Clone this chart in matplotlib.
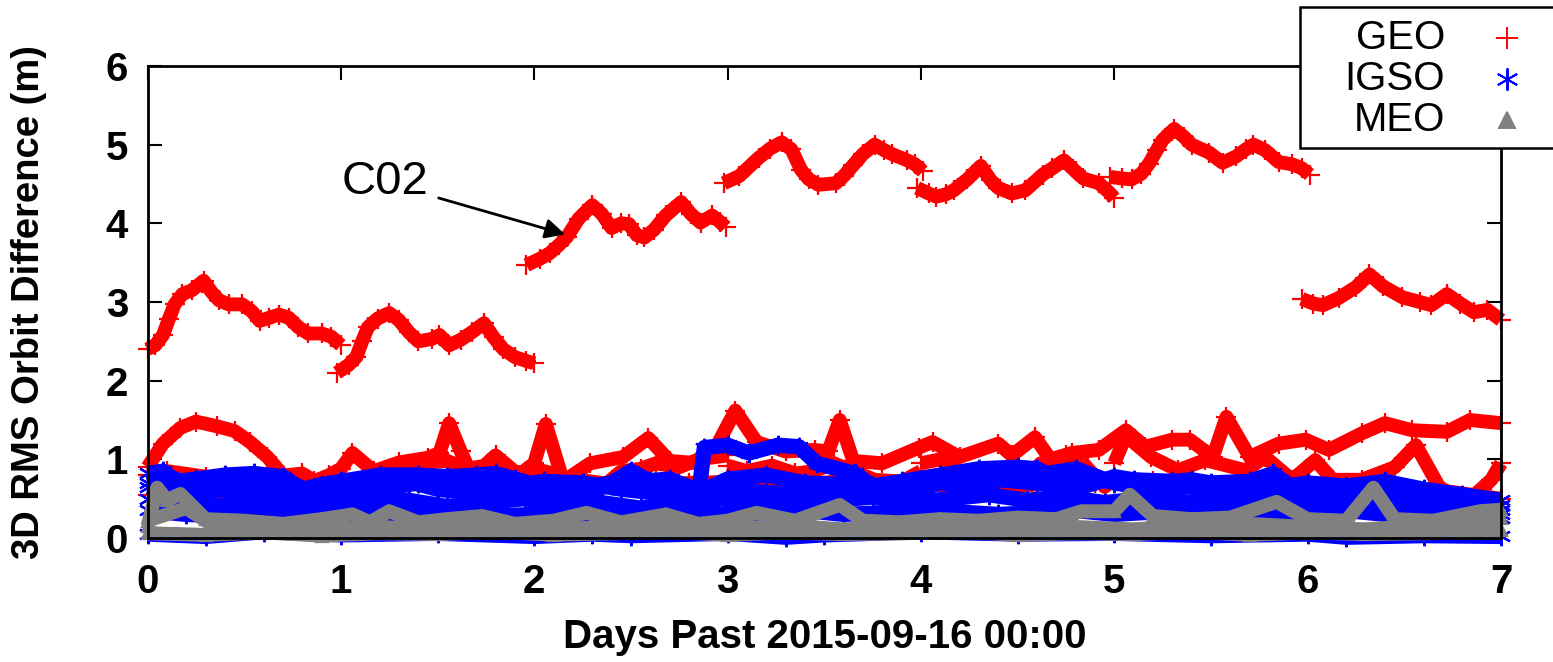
import numpy as np
import matplotlib
matplotlib.use('Agg')
import matplotlib.pyplot as plt
from matplotlib.patches import Rectangle
from matplotlib.lines import Line2D

plt.rcParams['font.family'] = ['Liberation Sans', 'DejaVu Sans']

nan = np.nan

# C02 (GEO), one arc per daily solution, nan breaks the line between days
c02_days = [0.00, 0.04, 0.08, 0.11, 0.14, 0.18, 0.23, 0.29, 0.33, 0.37, 0.42, 0.49, 0.54, 0.58, 0.63, 0.68, 0.73, 0.78, 0.83, 0.90, 0.95, 1.00, nan,
            0.98, 1.04, 1.08, 1.11, 1.14, 1.19, 1.25, 1.30, 1.35, 1.40, 1.47, 1.51, 1.56, 1.62, 1.68, 1.74, 1.79, 1.84, 1.90, 1.96, 2.00, nan,
            1.96, 2.03, 2.08, 2.13, 2.17, 2.23, 2.30, 2.35, 2.40, 2.45, 2.49, 2.53, 2.57, 2.62, 2.68, 2.76, 2.81, 2.86, 2.92, 2.96, 2.99, nan,
            2.98, 3.06, 3.16, 3.22, 3.28, 3.33, 3.38, 3.42, 3.47, 3.56, 3.60, 3.65, 3.70, 3.76, 3.81, 3.85, 3.93, 3.97, 4.01, nan,
            3.98, 4.04, 4.08, 4.13, 4.17, 4.24, 4.31, 4.36, 4.40, 4.47, 4.54, 4.63, 4.68, 4.74, 4.80, 4.84, 4.92, 4.97, 5.00, nan,
            4.98, 5.04, 5.09, 5.14, 5.18, 5.22, 5.25, 5.31, 5.36, 5.40, 5.49, 5.56, 5.63, 5.68, 5.72, 5.78, 5.85, 5.92, 5.97, 6.01, nan,
            5.97, 6.03, 6.08, 6.16, 6.25, 6.32, 6.39, 6.49, 6.58, 6.64, 6.72, 6.79, 6.86, 6.93, 7.00]
c02_vals = [2.40, 2.45, 2.58, 2.78, 2.97, 3.10, 3.15, 3.27, 3.13, 3.02, 2.97, 2.97, 2.88, 2.76, 2.80, 2.84, 2.80, 2.68, 2.60, 2.60, 2.56, 2.45, nan,
            2.10, 2.20, 2.30, 2.50, 2.68, 2.79, 2.86, 2.77, 2.62, 2.50, 2.53, 2.58, 2.45, 2.52, 2.62, 2.73, 2.55, 2.40, 2.30, 2.25, 2.22, nan,
            3.47, 3.55, 3.62, 3.73, 3.83, 4.06, 4.23, 4.12, 3.94, 4.00, 3.99, 3.85, 3.82, 3.92, 4.10, 4.27, 4.12, 4.01, 4.10, 4.02, 3.95, nan,
            4.51, 4.60, 4.83, 4.95, 5.03, 4.94, 4.68, 4.56, 4.49, 4.51, 4.60, 4.74, 4.88, 5.00, 4.93, 4.88, 4.80, 4.75, 4.66, nan,
            4.45, 4.38, 4.34, 4.37, 4.42, 4.56, 4.73, 4.55, 4.45, 4.38, 4.42, 4.62, 4.70, 4.80, 4.66, 4.57, 4.51, 4.40, 4.32, nan,
            4.59, 4.57, 4.56, 4.63, 4.76, 4.93, 5.06, 5.20, 5.10, 5.00, 4.90, 4.77, 4.85, 4.94, 5.00, 4.93, 4.78, 4.75, 4.70, 4.62, nan,
            3.04, 2.98, 2.96, 3.05, 3.19, 3.35, 3.20, 3.06, 3.00, 2.96, 3.10, 2.98, 2.87, 2.90, 2.77]

# other GEO satellites
geo_a_days = [0.00, 0.08, 0.17, 0.25, 0.36, 0.45, 0.53, 0.62, 0.70, 0.78, 0.86, 0.94, 1.00, 1.06, 1.17, 1.30, 1.45, 1.51, 1.56, 1.62, 1.68,
              1.80, 1.92, 2.00, 2.06, 2.15, 2.29, 2.46, 2.59, 2.70, 2.85, 2.95, 3.04, 3.15, 3.30, 3.45, 3.52, 3.58, 3.65, 3.80, 3.99, 4.06,
              4.20, 4.40, 4.47, 4.59, 4.67, 4.78, 4.92, 5.06, 5.16, 5.30, 5.39, 5.51, 5.58, 5.70, 5.85, 5.99, 6.11, 6.28, 6.40, 6.54,
              6.72, 6.84, 7.00]
geo_a_vals = [0.90, 1.20, 1.40, 1.48, 1.42, 1.36, 1.22, 1.03, 0.80, 0.65, 0.72, 0.80, 0.88, 1.08, 0.85, 0.96, 1.02, 1.08, 1.46, 1.10, 0.78,
              1.05, 0.80, 0.95, 1.45, 0.72, 0.95, 1.03, 1.27, 0.98, 0.95, 1.20, 1.62, 1.22, 1.10, 1.12, 1.10, 1.50, 0.98, 0.95, 1.15, 1.22,
              1.03, 1.20, 1.05, 1.28, 1.00, 1.08, 1.12, 1.37, 1.16, 1.25, 1.25, 1.03, 1.54, 1.03, 1.20, 1.25, 1.12, 1.33, 1.46, 1.37,
              1.35, 1.50, 1.46]

geo_b_days = [0.00, 0.10, 0.30, 0.50, 0.65, 0.80, 0.93, 1.00, nan,
              1.00, 1.10, 1.25, 1.40, 1.55, 1.65, 1.75, 1.85, 2.00, nan,
              2.00, 2.10, 2.20, 2.34, 2.45, 2.55, 2.63, 2.75, 2.85, 3.00, nan,
              3.00, 3.10, 3.23, 3.35, 3.45, 3.55, 3.70, 3.85, 4.00, nan,
              4.00, 4.10, 4.25, 4.40, 4.50, 4.62, 4.75, 4.82, 4.95, 5.00, nan,
              5.00, 5.06, 5.19, 5.33, 5.47, 5.68, 5.78, 5.92, 6.04, 6.13, 6.28, 6.45, 6.56, 6.68, 6.82, 6.95, 7.00]
geo_b_vals = [0.80, 0.85, 0.78, 0.70, 0.78, 0.82, 0.62, 0.70, nan,
              0.75, 0.72, 0.88, 0.95, 0.98, 0.88, 0.92, 0.85, 0.80, nan,
              0.88, 0.82, 0.68, 0.62, 0.85, 0.88, 0.95, 0.90, 1.00, 1.05, nan,
              0.92, 0.85, 0.92, 0.82, 0.85, 0.95, 0.80, 0.65, 0.85, nan,
              0.95, 1.00, 0.75, 0.65, 0.70, 0.95, 1.05, 1.00, 0.65, 0.75, nan,
              0.95, 1.30, 1.03, 0.86, 0.99, 0.86, 1.03, 0.74, 0.99, 0.74, 0.74, 0.90, 1.18, 0.65, 0.45, 0.74, 0.95]

geo_c_days = [0.0, 0.2, 0.4, 0.6, 0.8, 1.0, 1.3, 1.6, 1.9, 2.2, 2.5, 2.8, 3.1, 3.4, 3.7, 4.0, 4.3, 4.6, 4.9, 5.2, 5.5, 5.8, 6.1, 6.4, 6.7, 7.0]
geo_c_vals = [0.55, 0.60, 0.55, 0.65, 0.72, 0.60, 0.70, 0.65, 0.72, 0.75, 0.65, 0.70, 0.72, 0.68, 0.75, 0.70, 0.62, 0.68, 0.70, 0.72, 0.60, 0.70, 0.62, 0.55, 0.60, 0.50]

# IGSO satellites
igso_1_days = [0.00, 0.08, 0.15, 0.25, 0.40, 0.55, 0.70, 0.80, 0.90, 1.00, 1.20, 1.40, 1.55, 1.70, 1.80, 1.90, 2.00, 2.20, 2.40, 2.50,
               2.60, 2.75, 2.85, 2.88, 3.00, 3.11, 3.26, 3.37, 3.46, 3.66, 3.75, 3.90, 4.10, 4.30, 4.50, 4.60, 4.70, 4.90, 5.10, 5.30,
               5.50, 5.70, 5.82, 5.90, 6.10, 6.30, 6.50, 6.70, 6.90, 7.00]
igso_1_vals = [0.82, 0.85, 0.72, 0.75, 0.80, 0.82, 0.78, 0.62, 0.68, 0.72, 0.80, 0.80, 0.78, 0.80, 0.82, 0.75, 0.68, 0.62, 0.70, 0.85,
               0.72, 0.60, 0.55, 1.15, 1.18, 1.08, 1.18, 1.16, 0.95, 0.82, 0.66, 0.72, 0.80, 0.88, 0.90, 0.88, 0.75, 0.72, 0.74, 0.72,
               0.70, 0.72, 0.82, 0.68, 0.62, 0.65, 0.62, 0.55, 0.45, 0.42]
igso_2_days = [0.00, 0.20, 0.40, 0.60, 0.80, 1.00, 1.20, 1.40, 1.60, 1.80, 2.00, 2.20, 2.40, 2.55, 2.70, 2.85, 3.00, 3.20, 3.40, 3.60,
               3.80, 4.00, 4.20, 4.40, 4.60, 4.80, 5.00, 5.20, 5.40, 5.60, 5.80, 6.00, 6.20, 6.40, 6.60, 6.80, 7.00]
igso_2_vals = [0.65, 0.55, 0.62, 0.55, 0.50, 0.55, 0.62, 0.70, 0.68, 0.72, 0.62, 0.55, 0.68, 0.72, 0.75, 0.60, 0.62, 0.58, 0.55, 0.60,
               0.55, 0.62, 0.78, 0.85, 0.80, 0.88, 0.70, 0.62, 0.65, 0.62, 0.68, 0.55, 0.60, 0.62, 0.60, 0.50, 0.35]
igso_3_days = [0.00, 0.15, 0.35, 0.55, 0.75, 0.95, 1.15, 1.35, 1.55, 1.75, 1.95, 2.15, 2.35, 2.55, 2.75, 2.95, 3.15, 3.35, 3.55, 3.75,
               3.95, 4.15, 4.35, 4.55, 4.75, 4.95, 5.15, 5.35, 5.55, 5.75, 5.95, 6.15, 6.35, 6.55, 6.75, 7.00]
igso_3_vals = [0.50, 0.45, 0.40, 0.48, 0.42, 0.38, 0.45, 0.48, 0.40, 0.45, 0.50, 0.42, 0.45, 0.38, 0.45, 0.50, 0.45, 0.40, 0.48, 0.52,
               0.45, 0.50, 0.55, 0.48, 0.52, 0.45, 0.50, 0.45, 0.48, 0.52, 0.45, 0.42, 0.48, 0.50, 0.40, 0.30]
igso_4_days = [0.0, 0.2, 0.4, 0.6, 0.8, 1.0, 1.2, 1.4, 1.6, 1.8, 2.0, 2.2, 2.4, 2.6, 2.8, 3.0, 3.2, 3.4, 3.6, 3.8, 4.0, 4.2, 4.4, 4.6,
               4.8, 5.0, 5.2, 5.4, 5.6, 5.8, 6.0, 6.2, 6.4, 6.6, 6.8, 7.0]
igso_4_vals = [0.35, 0.30, 0.28, 0.32, 0.28, 0.30, 0.26, 0.30, 0.32, 0.28, 0.30, 0.28, 0.32, 0.30, 0.33, 0.30, 0.28, 0.35, 0.30, 0.32,
               0.30, 0.33, 0.30, 0.32, 0.35, 0.30, 0.33, 0.30, 0.32, 0.30, 0.32, 0.35, 0.30, 0.32, 0.28, 0.25]
igso_5_days = [0.0, 0.3, 0.6, 1.0, 1.5, 2.0, 2.3, 2.5, 3.0, 3.3, 3.5, 4.0, 4.5, 5.0, 5.5, 6.0, 6.2, 6.6, 7.0]
igso_5_vals = [0.05, 0.02, 0.08, 0.04, 0.06, 0.02, 0.05, 0.03, 0.06, 0.01, 0.04, 0.08, 0.05, 0.06, 0.03, 0.05, 0.01, 0.03, 0.02]
igso_6_days = [0.00, 0.10, 0.25, 0.45, 0.60, 0.75, 0.90, 1.10, 1.30, 1.50, 1.65, 1.85, 2.05, 2.25, 2.45, 2.60, 2.80, 3.00, 3.20, 3.40,
               3.60, 3.80, 4.00, 4.20, 4.40, 4.60, 4.80, 5.00, 5.20, 5.40, 5.60, 5.80, 6.00, 6.20, 6.40, 6.60, 6.80, 7.00]
igso_6_vals = [0.70, 0.78, 0.62, 0.68, 0.65, 0.55, 0.60, 0.70, 0.75, 0.62, 0.58, 0.65, 0.72, 0.70, 0.62, 0.58, 0.52, 0.75, 0.80, 0.70,
               0.68, 0.62, 0.72, 0.68, 0.74, 0.70, 0.62, 0.78, 0.70, 0.74, 0.66, 0.62, 0.70, 0.66, 0.72, 0.62, 0.55, 0.48]

# MEO satellites
meo_1_days = [0.00, 0.05, 0.10, 0.17, 0.30, 0.50, 0.70, 0.90, 1.06, 1.15, 1.25, 1.40, 1.55, 1.73, 1.90, 2.10, 2.27, 2.45, 2.68, 2.85,
              3.00, 3.15, 3.35, 3.58, 3.70, 3.89, 4.10, 4.30, 4.50, 4.70, 4.83, 5.00, 5.08, 5.20, 5.40, 5.60, 5.84, 6.00, 6.20, 6.34,
              6.45, 6.65, 6.89, 7.00]
meo_1_vals = [0.15, 0.64, 0.48, 0.56, 0.24, 0.22, 0.18, 0.24, 0.30, 0.20, 0.34, 0.20, 0.24, 0.28, 0.18, 0.22, 0.32, 0.20, 0.30, 0.18,
              0.22, 0.32, 0.22, 0.42, 0.22, 0.20, 0.24, 0.22, 0.26, 0.24, 0.34, 0.34, 0.55, 0.28, 0.24, 0.26, 0.46, 0.24, 0.22, 0.64,
              0.24, 0.22, 0.34, 0.36]
meo_2_days = [0.0, 0.2, 0.35, 0.6, 0.9, 1.2, 1.5, 1.8, 2.1, 2.4, 2.7, 3.0, 3.3, 3.6, 3.9, 4.2, 4.5, 4.8, 5.1, 5.4, 5.7, 6.0, 6.3, 6.6,
              6.9, 7.0]
meo_2_vals = [0.22, 0.38, 0.14, 0.11, 0.09, 0.14, 0.11, 0.16, 0.11, 0.14, 0.18, 0.11, 0.16, 0.11, 0.14, 0.16, 0.11, 0.14, 0.11, 0.16,
              0.18, 0.14, 0.11, 0.16, 0.22, 0.26]
meo_3_days = [0.0, 0.3, 0.6, 0.9, 1.2, 1.5, 1.8, 2.1, 2.4, 2.7, 3.0, 3.3, 3.6, 3.9, 4.2, 4.5, 4.8, 5.1, 5.4, 5.7, 6.0, 6.3, 6.6, 6.9,
              7.0]
meo_3_vals = [0.06, 0.04, 0.07, 0.03, 0.06, 0.05, 0.08, 0.04, 0.06, 0.08, 0.04, 0.07, 0.05, 0.06, 0.08, 0.04, 0.06, 0.05, 0.08, 0.04,
              0.07, 0.05, 0.06, 0.08, 0.10]

GEO_COLOR = '#ff0000'
IGSO_COLOR = '#0000ff'
MEO_COLOR = '#808080'
asterisk = (6, 2, 0)

fig = plt.figure(figsize=(15.53, 6.62), dpi=100)
ax = fig.add_axes([0.095, 0.1873, 0.8715, 0.713])


def draw(days, vals, color, marker, ms=13, lw=9):
    ax.plot(days, vals, color=color, lw=lw, marker=marker, ms=ms, mew=1.6,
            solid_joinstyle='round', solid_capstyle='butt', clip_on=False)


# GEO first, IGSO over it, MEO on top
draw(c02_days, c02_vals, GEO_COLOR, '+', ms=14, lw=10)
for d, v in [(geo_a_days, geo_a_vals), (geo_b_days, geo_b_vals),
             (geo_c_days, geo_c_vals)]:
    draw(d, v, GEO_COLOR, '+', ms=14, lw=10)
for d, v in [(igso_1_days, igso_1_vals), (igso_6_days, igso_6_vals),
             (igso_2_days, igso_2_vals), (igso_3_days, igso_3_vals),
             (igso_4_days, igso_4_vals), (igso_5_days, igso_5_vals)]:
    draw(d, v, IGSO_COLOR, asterisk, ms=14, lw=11)
for d, v in [(meo_1_days, meo_1_vals), (meo_2_days, meo_2_vals),
             (meo_3_days, meo_3_vals)]:
    draw(d, v, MEO_COLOR, '^', ms=9, lw=10)

ax.set_xlim(0, 7)
ax.set_ylim(0, 6)
ax.set_xticks(range(8))
ax.set_yticks(range(7))
ax.tick_params(axis='both', direction='in', length=10, width=1.5, top=True, right=True,
               labelsize=29)
ax.tick_params(axis='x', pad=18)
ax.tick_params(axis='y', pad=14)
for lab in ax.get_xticklabels() + ax.get_yticklabels():
    lab.set_fontweight('bold')
for sp in ax.spines.values():
    sp.set_linewidth(2)
    sp.set_zorder(10)

ax.set_xlabel('Days Past 2015-09-16 00:00', fontsize=29, fontweight='bold', labelpad=12)
ax.set_ylabel('3D RMS Orbit Difference (m)', fontsize=27.5, fontweight='bold', labelpad=42)

ax.annotate('C02', xy=(2.16, 3.86), xytext=(1.45, 4.52), fontsize=34,
            ha='right', va='center',
            arrowprops=dict(arrowstyle='-|>', color='black', lw=2,
                            mutation_scale=30, shrinkA=6, shrinkB=0))

# key box, partly outside the canvas on the right
W, H = 1553.0, 662.0
fig.add_artist(Rectangle((1300 / W, 1 - 148 / H), 300 / W, 141 / H,
                         transform=fig.transFigure, facecolor='white',
                         edgecolor='black', lw=1.8, zorder=20))
names = ['GEO', 'IGSO', 'MEO']
colors = [GEO_COLOR, IGSO_COLOR, MEO_COLOR]
markers = ['+', asterisk, '^']
sizes = [16, 16, 11]
for i, name in enumerate(names):
    yy = 1 - (38 + 41 * i) / H
    fig.text(1445 / W, yy, name, fontsize=29, ha='right', va='center', zorder=21)
    fig.add_artist(Line2D([1507 / W], [yy], transform=fig.transFigure,
                          marker=markers[i], ms=sizes[i], mew=1.4,
                          color=colors[i], ls='none', zorder=21))

fig.savefig('out.png', dpi=100)
